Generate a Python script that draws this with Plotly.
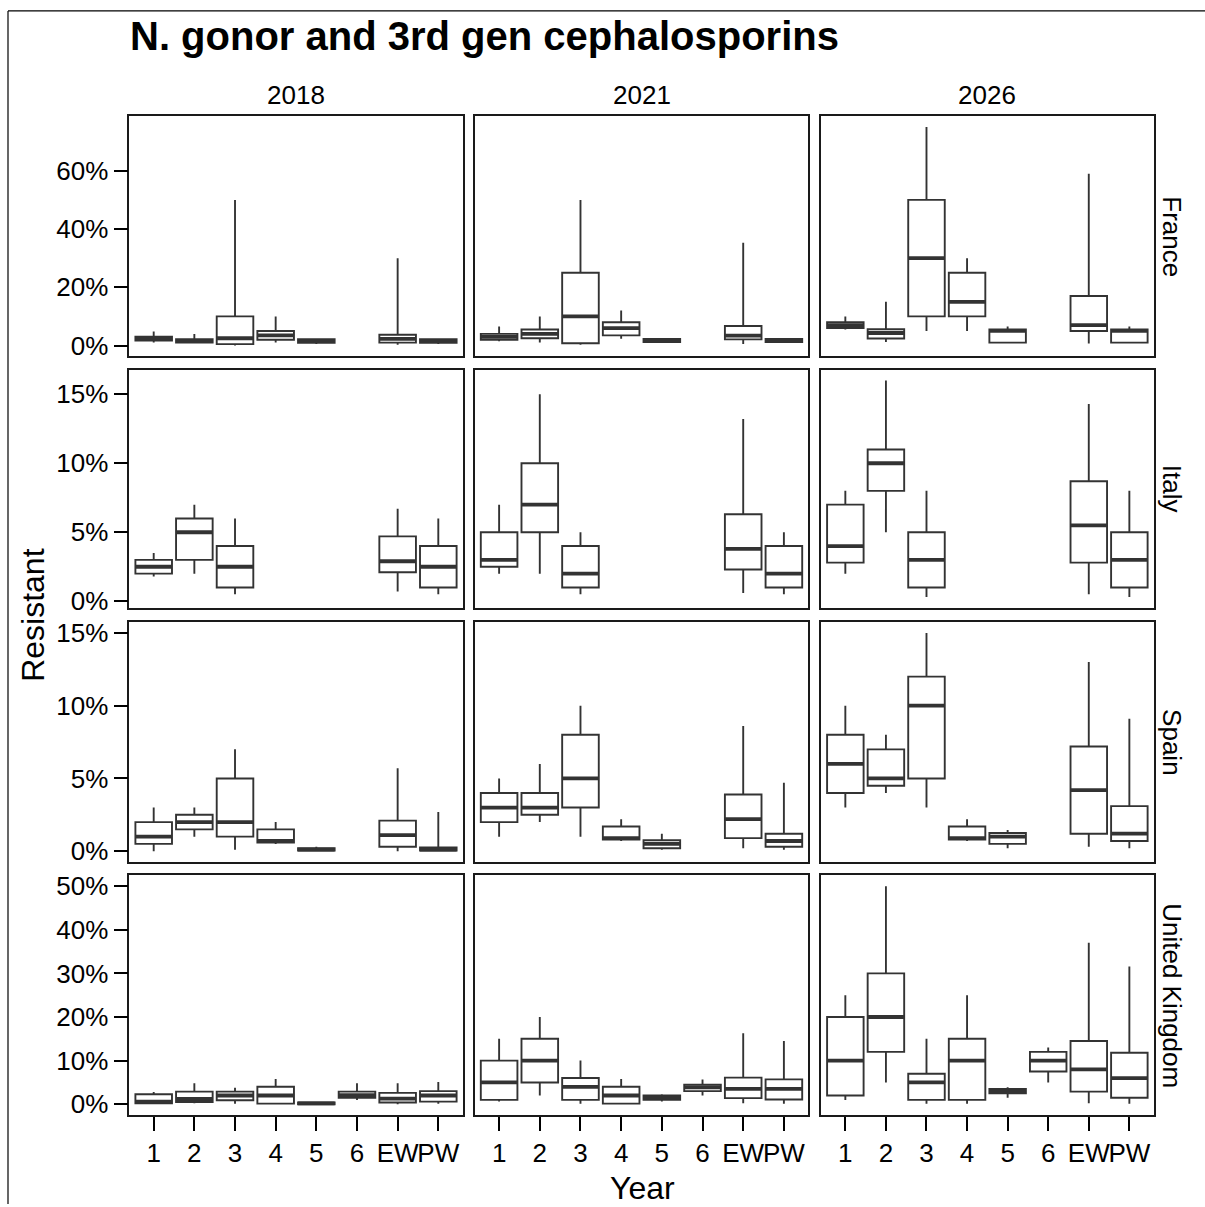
import plotly.graph_objects as go

# Categories on the x axis, facet columns and facet rows
CATEGORIES = ["1", "2", "3", "4", "5", "6", "EW", "PW"]
YEARS = ["2018", "2021", "2026"]
COUNTRIES = ["France", "Italy", "Spain", "United Kingdom"]

# Box statistics per category: (lower whisker, Q1, median, Q3, upper whisker), in %
FRANCE_2018 = [
    (1.0, 1.7, 2.3, 3.0, 4.8),
    (0.8, 1.0, 1.5, 2.2, 4.0),
    (0.0, 0.5, 2.5, 10.0, 50.0),
    (1.0, 2.0, 3.5, 5.0, 10.0),
    (0.5, 0.9, 1.5, 2.2, 2.4),
    None,
    (0.3, 1.0, 2.3, 3.7, 30.0),
    (0.5, 0.9, 1.5, 2.2, 2.4),
]
FRANCE_2021 = [
    (1.5, 2.0, 3.0, 4.0, 6.5),
    (1.0, 2.5, 4.0, 5.5, 10.0),
    (0.3, 0.8, 10.0, 25.0, 50.0),
    (2.3, 3.5, 6.0, 8.0, 12.0),
    (1.0, 1.2, 1.8, 2.3, 2.5),
    None,
    (0.5, 2.1, 3.4, 6.7, 35.3),
    (1.0, 1.2, 1.8, 2.3, 2.5),
]
FRANCE_2026 = [
    (5.5, 6.0, 7.0, 8.0, 10.0),
    (1.2, 2.4, 4.3, 5.6, 15.0),
    (5.0, 10.0, 30.0, 50.0, 75.0),
    (5.0, 10.0, 15.0, 25.0, 30.0),
    (0.7, 1.0, 5.0, 5.5, 6.5),
    None,
    (0.7, 5.0, 7.0, 17.0, 59.0),
    (0.7, 1.0, 5.0, 5.5, 6.5),
]
ITALY_2018 = [
    (1.8, 2.0, 2.5, 3.0, 3.5),
    (2.0, 3.0, 5.0, 6.0, 7.0),
    (0.5, 1.0, 2.5, 4.0, 6.0),
    None, None, None,
    (0.7, 2.1, 2.9, 4.7, 6.7),
    (0.5, 1.0, 2.5, 4.0, 6.0),
]
ITALY_2021 = [
    (2.0, 2.5, 3.0, 5.0, 7.0),
    (2.0, 5.0, 7.0, 10.0, 15.0),
    (0.5, 1.0, 2.0, 4.0, 5.0),
    None, None, None,
    (0.6, 2.3, 3.8, 6.3, 13.2),
    (0.5, 1.0, 2.0, 4.0, 5.0),
]
ITALY_2026 = [
    (2.0, 2.8, 4.0, 7.0, 8.0),
    (5.0, 8.0, 10.0, 11.0, 16.0),
    (0.3, 1.0, 3.0, 5.0, 8.0),
    None, None, None,
    (0.5, 2.8, 5.5, 8.7, 14.3),
    (0.3, 1.0, 3.0, 5.0, 8.0),
]
SPAIN_2018 = [
    (0.0, 0.5, 1.0, 2.0, 3.0),
    (1.0, 1.5, 2.0, 2.5, 3.0),
    (0.1, 1.0, 2.0, 5.0, 7.0),
    (0.5, 0.6, 0.7, 1.5, 2.0),
    (0.0, 0.05, 0.1, 0.2, 0.3),
    None,
    (0.0, 0.3, 1.1, 2.1, 5.7),
    (0.0, 0.05, 0.1, 0.25, 2.7),
]
SPAIN_2021 = [
    (1.0, 2.0, 3.0, 4.0, 5.0),
    (2.0, 2.5, 3.0, 4.0, 6.0),
    (1.0, 3.0, 5.0, 8.0, 10.0),
    (0.7, 0.8, 0.9, 1.7, 2.2),
    (0.1, 0.2, 0.5, 0.75, 1.2),
    None,
    (0.2, 0.9, 2.2, 3.9, 8.6),
    (0.1, 0.3, 0.7, 1.2, 4.7),
]
SPAIN_2026 = [
    (3.0, 4.0, 6.0, 8.0, 10.0),
    (4.0, 4.5, 5.0, 7.0, 8.0),
    (3.0, 5.0, 10.0, 12.0, 15.0),
    (0.7, 0.8, 0.9, 1.7, 2.2),
    (0.2, 0.5, 1.0, 1.25, 1.45),
    None,
    (0.3, 1.2, 4.2, 7.2, 13.0),
    (0.2, 0.7, 1.2, 3.1, 9.1),
]
UK_2018 = [
    (0.1, 0.2, 0.6, 2.3, 2.8),
    (0.2, 0.5, 1.2, 2.9, 4.8),
    (0.1, 0.9, 2.0, 2.9, 3.8),
    (0.0, 0.15, 2.0, 4.0, 5.8),
    (0.0, 0.0, 0.2, 0.4, 0.5),
    (1.0, 1.5, 2.1, 2.9, 4.8),
    (0.0, 0.4, 1.3, 2.6, 4.8),
    (0.1, 0.6, 2.0, 3.0, 5.1),
]
UK_2021 = [
    (0.6, 1.0, 5.0, 10.0, 15.0),
    (2.0, 5.0, 10.0, 15.0, 20.0),
    (0.1, 1.0, 4.0, 6.0, 10.0),
    (0.0, 0.15, 2.0, 4.0, 5.8),
    (0.6, 1.0, 1.5, 2.0, 2.3),
    (2.0, 3.0, 3.9, 4.5, 5.7),
    (0.2, 1.4, 3.5, 6.1, 16.3),
    (0.1, 1.1, 3.5, 5.7, 14.5),
]
UK_2026 = [
    (1.0, 2.0, 10.0, 20.0, 25.0),
    (5.0, 12.0, 20.0, 30.0, 50.0),
    (0.1, 1.0, 5.0, 7.0, 15.0),
    (0.1, 1.0, 10.0, 15.0, 25.0),
    (1.5, 2.5, 3.0, 3.5, 3.9),
    (5.0, 7.5, 10.0, 12.0, 13.0),
    (0.2, 2.9, 8.0, 14.5, 37.0),
    (0.1, 1.5, 6.0, 11.8, 31.6),
]

PANELS = {
    ("France", "2018"): FRANCE_2018,
    ("France", "2021"): FRANCE_2021,
    ("France", "2026"): FRANCE_2026,
    ("Italy", "2018"): ITALY_2018,
    ("Italy", "2021"): ITALY_2021,
    ("Italy", "2026"): ITALY_2026,
    ("Spain", "2018"): SPAIN_2018,
    ("Spain", "2021"): SPAIN_2021,
    ("Spain", "2026"): SPAIN_2026,
    ("United Kingdom", "2018"): UK_2018,
    ("United Kingdom", "2021"): UK_2021,
    ("United Kingdom", "2026"): UK_2026,
}
Y_DTICK = {"France": 20, "Italy": 5, "Spain": 5, "United Kingdom": 10}

# Page geometry (pixels)
W, H = 1205, 1207
COL_PX = [(129.3, 462.7), (474.7, 808.3), (821.0, 1153.7)]
ROW_PX = [(113.3, 356.0), (369.3, 610.0), (624.3, 866.7), (880.0, 1122.3)]
FONT = "Arial, Liberation Sans, sans-serif"
INK = "#333333"
BOX_W = 0.9


def px_x(v):
    return v / W


def px_y(v):
    return 1 - v / H


fig = go.Figure()
layout_axes = {}
positions = list(range(1, len(CATEGORIES) + 1))

for r, country in enumerate(COUNTRIES):
    row_stats = [s for yr in YEARS for s in PANELS[(country, yr)] if s is not None]
    lo = min(s[0] for s in row_stats)
    hi = max(s[4] for s in row_stats)
    pad = 0.05 * (hi - lo)
    y_range = [lo - pad, hi + pad]

    for c, year in enumerate(YEARS):
        idx = r * len(YEARS) + c + 1
        sfx = "" if idx == 1 else str(idx)
        stats = PANELS[(country, year)]
        xs = [p for p, s in zip(positions, stats) if s is not None]
        st = [s for s in stats if s is not None]

        fig.add_trace(go.Box(
            x=xs,
            lowerfence=[s[0] for s in st],
            q1=[s[1] for s in st],
            median=[s[2] for s in st],
            q3=[s[3] for s in st],
            upperfence=[s[4] for s in st],
            width=BOX_W,
            whiskerwidth=0,
            boxpoints=False,
            fillcolor="white",
            line=dict(color=INK, width=1.9),
            showlegend=False,
            hoverinfo="skip",
            xaxis="x" + sfx,
            yaxis="y" + sfx,
        ))

        # thicker median bars drawn over each box
        mx, my = [], []
        for p, s in zip(xs, st):
            mx += [p - BOX_W / 2, p + BOX_W / 2, None]
            my += [s[2], s[2], None]
        fig.add_trace(go.Scatter(
            x=mx, y=my, mode="lines",
            line=dict(color=INK, width=3.8),
            showlegend=False, hoverinfo="skip",
            xaxis="x" + sfx, yaxis="y" + sfx,
        ))

        bottom = r == len(COUNTRIES) - 1
        left = c == 0
        x0, x1 = COL_PX[c]
        y0, y1 = ROW_PX[r]
        layout_axes["xaxis" + sfx] = dict(
            domain=[px_x(x0), px_x(x1)],
            anchor="y" + sfx,
            range=[0.4, len(CATEGORIES) + 0.6],
            tickmode="array",
            tickvals=positions,
            ticktext=CATEGORIES,
            showticklabels=bottom,
            ticks="outside" if bottom else "",
            ticklen=14, tickwidth=2, tickcolor="black",
            tickangle=0,
            tickfont=dict(family=FONT, size=26, color="black"),
            showline=True, mirror=True, linecolor="#1a1a1a", linewidth=1.5,
            showgrid=False, zeroline=False, fixedrange=True,
        )
        layout_axes["yaxis" + sfx] = dict(
            domain=[px_y(y1), px_y(y0)],
            anchor="x" + sfx,
            range=y_range,
            tickmode="linear", tick0=0, dtick=Y_DTICK[country],
            ticksuffix="%",
            showticklabels=left,
            ticks="outside" if left else "",
            ticklen=14, tickwidth=2, tickcolor="black",
            tickfont=dict(family=FONT, size=26, color="black"),
            showline=True, mirror=True, linecolor="#1a1a1a", linewidth=1.5,
            showgrid=False, zeroline=False, fixedrange=True,
        )

annotations = []
for c, year in enumerate(YEARS):
    x0, x1 = COL_PX[c]
    annotations.append(dict(
        text=year, x=px_x((x0 + x1) / 2), y=px_y(92), xref="paper", yref="paper",
        xanchor="center", yanchor="middle", showarrow=False,
        font=dict(family=FONT, size=26, color="black"),
    ))
for r, country in enumerate(COUNTRIES):
    y0, y1 = ROW_PX[r]
    annotations.append(dict(
        text=country, x=px_x(1172), y=px_y((y0 + y1) / 2), xref="paper", yref="paper",
        xanchor="center", yanchor="middle", textangle=90, showarrow=False,
        font=dict(family=FONT, size=26, color="black"),
    ))
annotations += [
    dict(text="<b>N. gonor and 3rd gen cephalosporins</b>", x=px_x(128), y=px_y(32),
         xref="paper", yref="paper", xanchor="left", yanchor="middle", showarrow=False,
         font=dict(family=FONT, size=40, color="black")),
    dict(text="Resistant", x=px_x(33), y=px_y(617), xref="paper", yref="paper",
         xanchor="center", yanchor="middle", textangle=-90, showarrow=False,
         font=dict(family=FONT, size=32, color="black")),
    dict(text="Year", x=px_x(642), y=px_y(1196), xref="paper", yref="paper",
         xanchor="center", yanchor="middle", showarrow=False,
         font=dict(family=FONT, size=32, color="black")),
]

# outer frame lines along the left and top of the page
shapes = [
    dict(type="line", xref="paper", yref="paper", x0=px_x(8), x1=px_x(8),
         y0=px_y(7), y1=px_y(H + 5), line=dict(color="black", width=1.2)),
    dict(type="line", xref="paper", yref="paper", x0=px_x(8), x1=px_x(W + 5),
         y0=px_y(7), y1=px_y(7), line=dict(color="black", width=1.2)),
]

fig.update_layout(
    width=W, height=H,
    margin=dict(l=0, r=0, t=0, b=0),
    paper_bgcolor="white", plot_bgcolor="white",
    annotations=annotations, shapes=shapes,
    showlegend=False,
    **layout_axes,
)

fig.write_html("out.html")
